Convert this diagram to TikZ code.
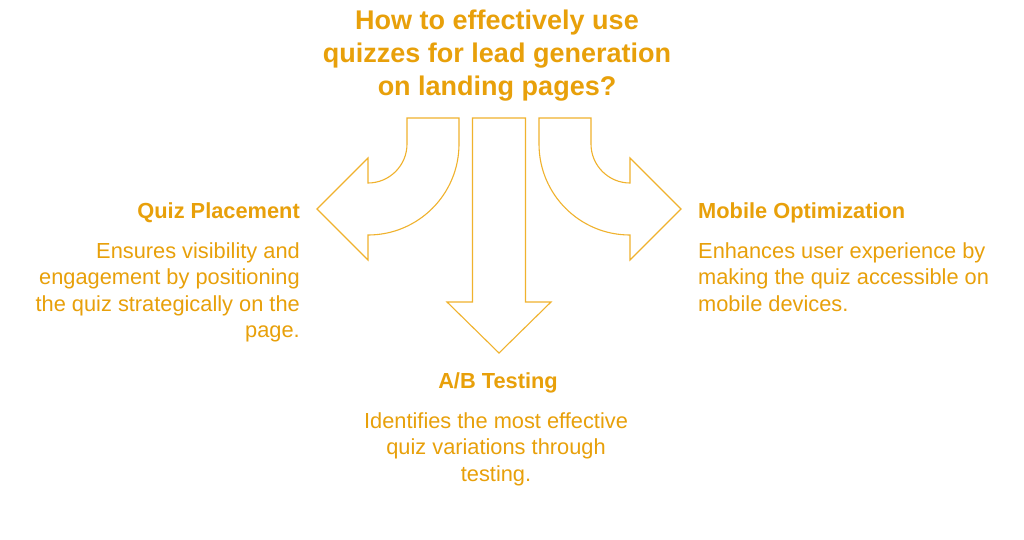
\documentclass[tikz,border=0pt]{standalone}
\usepackage{fontspec}
\setmainfont{Liberation Sans}
\definecolor{txtc}{RGB}{232,160,10}
\definecolor{arrc}{RGB}{240,178,45}
\begin{document}
\begin{tikzpicture}[x=1pt,y=-1pt,
  title/.style={text=txtc,font=\fontsize{27}{33}\selectfont\bfseries,align=center,inner sep=0pt,anchor=base},
  head/.style={text=txtc,font=\fontsize{21.8}{24}\selectfont\bfseries,inner sep=0pt},
  body/.style={text=txtc,font=\fontsize{21.8}{26.6}\selectfont,inner sep=0pt},
  bigarrow/.style={draw=arrc,line width=1.1pt,line join=miter}]
\useasboundingbox (0,0) rectangle (1024,539);
\fill[white] (0,0) rectangle (1024,539);

\node[title] (t) at (497,95.5) {How to effectively use\\quizzes for lead generation\\on landing pages?};

% left arrow
\draw[bigarrow] (407,118) -- (459,118) -- (459,144)
  .. controls (459,194.3) and (418.3,235) .. (368,235)
  -- (368,260) -- (317,209) -- (368,158) -- (368,183)
  .. controls (389.5,183) and (407,165.5) .. (407,144) -- cycle;
% middle arrow
\draw[bigarrow] (472.5,118) -- (525.5,118) -- (525.5,302) -- (551,302) -- (499,353)
  -- (447,302) -- (472.5,302) -- cycle;
% right arrow
\draw[bigarrow] (591,118) -- (539,118) -- (539,144)
  .. controls (539,194.3) and (579.7,235) .. (630,235)
  -- (630,260) -- (681,209) -- (630,158) -- (630,183)
  .. controls (608.5,183) and (591,165.5) .. (591,144) -- cycle;

\node[head,anchor=base east] (qh) at (300,218) {Quiz Placement};
\node[body,align=right,anchor=base east] (qb) at (300,337.8) {Ensures visibility and\\engagement by positioning\\the quiz strategically on the\\page.};

\node[head,anchor=base west] (mh) at (698,218) {Mobile Optimization};
\node[body,align=left,anchor=base west] (mb) at (698,311.2) {Enhances user experience by\\making the quiz accessible on\\mobile devices.};

\node[head,anchor=base] (ah) at (498,388) {A/B Testing};
\node[body,align=center,anchor=base] (ab) at (496,481.2) {Identifies the most effective\\quiz variations through\\testing.};
\end{tikzpicture}
\end{document}
